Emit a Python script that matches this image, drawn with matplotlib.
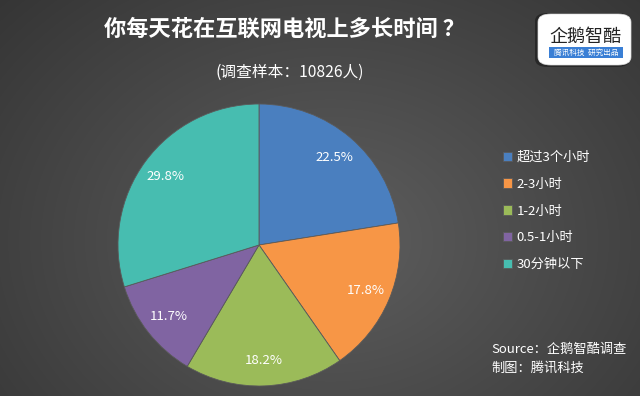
import numpy as np
import matplotlib
matplotlib.use("Agg")
import matplotlib.pyplot as plt
import matplotlib.patches as mpatches

plt.rcParams['font.family'] = ['Noto Sans CJK SC', 'DejaVu Sans']

categories = ['超过3个小时', '2-3小时', '1-2小时', '0.5-1小时', '30分钟以下']
shares = [22.5, 17.8, 18.2, 11.7, 29.8]
colors = ['#4a7fbf', '#f79646', '#9bbb59', '#8064a2', '#47bdb0']
title = '你每天花在互联网电视上多长时间 ？'
subtitle = '(调查样本：10826人)'

fig = plt.figure(figsize=(6.4, 3.96), dpi=100)

# radial gradient background
bg = fig.add_axes([0, 0, 1, 1])
yy, xx = np.mgrid[0:396, 0:640]
d = np.sqrt(((xx - 330) / 420.0) ** 2 + ((yy - 240) / 330.0) ** 2)
shade = np.clip(0.37 - 0.15 * d, 0.18, 0.37)
bg.imshow(np.dstack([shade, shade, shade]), aspect='auto', extent=[0, 1, 0, 1])
bg.axis('off')

# pie
ax = fig.add_axes([118 / 640, 10 / 396, 282 / 640, 282 / 396])
wedges, texts, autotexts = ax.pie(
    shares, colors=colors, startangle=90, counterclock=False,
    autopct='%.1f%%', pctdistance=0.82,
    wedgeprops=dict(edgecolor='#5a5a5a', linewidth=0.6),
    textprops=dict(color='white', fontsize=9.5))
ax.set_xlim(-1, 1)
ax.set_ylim(-1, 1)
ax.set_aspect('equal')
ax.axis('off')

# legend
leg = fig.legend(wedges, categories, loc='center left',
                 bbox_to_anchor=(0.767, 0.467), frameon=False,
                 labelcolor='white', fontsize=9.5, handlelength=0.7,
                 handleheight=0.7, handletextpad=0.35, labelspacing=1.05)

# titles
fig.text(0.444, 0.925, title, color='white', fontsize=16, fontweight='bold',
         ha='center', va='center')
fig.text(0.453, 0.818, subtitle, color='white', fontsize=11.3,
         ha='center', va='center')

# source
fig.text(0.768, 0.118, 'Source：企鹅智酷调查', color='white', fontsize=9.5,
         style='italic', ha='left', va='center')
fig.text(0.768, 0.07, '制图：腾讯科技', color='white', fontsize=9.5,
         style='italic', ha='left', va='center')

# logo
shadow = mpatches.FancyBboxPatch((535 / 640, 329 / 396), 95 / 640, 54 / 396,
                                 boxstyle='round,pad=0,rounding_size=0.02',
                                 transform=fig.transFigure, facecolor='#1e1e1e',
                                 edgecolor='none', alpha=0.7)
fig.patches.append(shadow)
logo = mpatches.FancyBboxPatch((538 / 640, 331 / 396), 93 / 640, 51 / 396,
                               boxstyle='round,pad=0,rounding_size=0.02',
                               transform=fig.transFigure, facecolor='white',
                               edgecolor='#dddddd', linewidth=0.5)
fig.patches.append(logo)
fig.text(585 / 640, 1 - 37 / 396, '企鹅智酷', color='#222222', fontsize=13,
         ha='center', va='center')
band = mpatches.Rectangle((549 / 640, 338 / 396), 74 / 640, 11 / 396,
                          transform=fig.transFigure, facecolor='#3a7fd5',
                          edgecolor='none')
fig.patches.append(band)
fig.text(586 / 640, 343.5 / 396, '腾讯科技  研究出品', color='white', fontsize=5.5,
         style='italic', ha='center', va='center')

fig.savefig('out.png', dpi=100)
